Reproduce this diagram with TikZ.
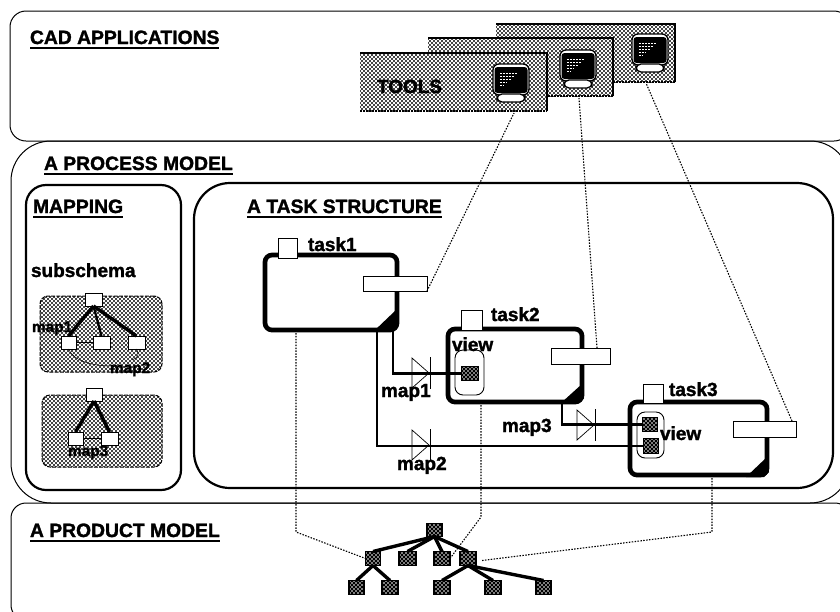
\documentclass[tikz,border=0pt]{standalone}
\usepackage{fontspec}
\setmainfont{Liberation Sans}[BoldFeatures={FakeBold=1.6}]
\usetikzlibrary{patterns,calc}
\pgfdeclarepatternformonly{finedots}{\pgfqpoint{-1pt}{-1pt}}{\pgfqpoint{5pt}{5pt}}{\pgfqpoint{4pt}{4pt}}{
  \pgfpathcircle{\pgfqpoint{0pt}{0pt}}{1.15pt}
  \pgfpathcircle{\pgfqpoint{2pt}{2pt}}{1.15pt}
  \pgfusepath{fill}}
\pgfdeclarepatternformonly{holes}{\pgfqpoint{-1pt}{-1pt}}{\pgfqpoint{5pt}{5pt}}{\pgfqpoint{4pt}{4pt}}{
  \pgfpathcircle{\pgfqpoint{0pt}{0pt}}{0.85pt}
  \pgfpathcircle{\pgfqpoint{2pt}{2pt}}{0.85pt}
  \pgfusepath{fill}}
\tikzset{
  panel/.style={draw=black,rectangle,rounded corners=#1,line width=1pt,inner sep=0pt,outer sep=0pt},
  inner panel/.style={draw=black,rectangle,rounded corners=#1,line width=2.2pt,inner sep=0pt,outer sep=0pt},
  title/.style={anchor=base west,inner sep=0pt,outer sep=0pt,font=\bfseries\fontsize{19.3}{20}\selectfont},
  lab/.style={anchor=base west,inner sep=0pt,outer sep=0pt,font=\bfseries\fontsize{19}{20}\selectfont},
  smalllab/.style={anchor=base west,inner sep=0pt,outer sep=0pt,font=\bfseries\fontsize{15.4}{16}\selectfont},
  ul/.style={line width=1.9pt},
  card/.style={rectangle,inner sep=0pt,outer sep=0pt,preaction={fill=white},pattern=finedots,pattern color=black},
  blob/.style={rectangle,rounded corners=8pt,inner sep=0pt,outer sep=0pt,draw=black,line width=1pt,dash pattern=on 4pt off 1.2pt,preaction={fill=white},pattern=finedots,pattern color=black},
  whitesq/.style={rectangle,draw=black,fill=white,line width=0.8pt,inner sep=0pt,outer sep=0pt},
  darksq/.style={rectangle,draw=black,line width=1.2pt,inner sep=0pt,outer sep=0pt,preaction={fill=black},pattern=holes,pattern color=white},
  taskbox/.style={rectangle,draw=black,fill=white,line width=4.7pt,rounded corners=7pt,inner sep=0pt,outer sep=0pt},
  toolbox/.style={rectangle,draw=black,fill=white,line width=0.9pt,inner sep=0pt,outer sep=0pt},
  capsule/.style={rectangle,draw=black,fill=white,line width=0.9pt,rounded corners=8pt,inner sep=0pt,outer sep=0pt},
  treeedge/.style={line width=3.4pt},
  flow/.style={line width=2.2pt},
  thin map/.style={line width=0.5pt},
  linkdot/.style={line width=1.1pt,dash pattern=on 1.5pt off 1.4pt},
  monitor/.pic={
    \draw[fill=white,line width=1.3pt,rounded corners=6pt] (0,0) rectangle (36,31);
    \fill[black,rounded corners=3pt] (1.5,3) rectangle (34.5,29);
    \draw[fill=white,line width=1.3pt,rounded corners=5pt] (4,30) rectangle (32,38);
    \draw[white,line width=0.9pt,dash pattern=on 1.5pt off 1.5pt] (7,9)--(24,9) (7,12)--(22,12) (7,15)--(18,15) (7,18)--(14,18) (7,21)--(11,21);
  }
}
\begin{document}
\begin{tikzpicture}[x=1pt,y=-1pt]
\useasboundingbox (0,0) rectangle (840,611);
\fill[white] (0,0) rectangle (840,611);
\clip (0,0) rectangle (840,611);

% outer panels
\node[panel=16pt,minimum width=840pt,minimum height=130pt] (cad) at (430,76) {};
\node[panel=40pt,minimum width=839pt,minimum height=362pt] (proc) at (430.5,322) {};
\node[panel=15pt,minimum width=839pt,minimum height=117pt] (prod) at (430.5,561.5) {};
% inner panels
\node[inner panel=20pt,minimum width=155pt,minimum height=305pt] (mapp) at (103.5,337.5) {};
\node[inner panel=36pt,minimum width=639pt,minimum height=305pt] (struct) at (513.5,335.5) {};

% titles
\node[title] (tcad) at (30,44) {CAD APPLICATIONS};
\node[title] (tproc) at (44,170) {A PROCESS MODEL};
\node[title] (tmap) at (33,213) {MAPPING};
\node[title] (ttask) at (247,213) {A TASK STRUCTURE};
\node[title] (tprod) at (30,537) {A PRODUCT MODEL};
\foreach \n in {tcad,tproc,tmap,ttask,tprod}{
  \draw[ul] ($(\n.base west)+(0,4)$) -- ($(\n.base east)+(0,4)$);
}

% tool cards
\node[card,minimum width=179pt,minimum height=58pt] (c3) at (585.5,53) {};
\draw[line width=2.4pt] (c3.north west) -- (c3.north east) -- (c3.south east);
\draw[line width=1.6pt,dash pattern=on 2pt off 1pt] (c3.south west) -- (c3.south east);
\pic at (632,34) {monitor};
\node[card,minimum width=185pt,minimum height=58pt] (c2) at (520.5,67) {};
\draw[line width=2.4pt] (c2.north west) -- (c2.north east) -- (c2.south east);
\draw[line width=1.6pt,dash pattern=on 2pt off 1pt] (c2.south west) -- (c2.south east);
\pic at (560,50) {monitor};
\node[card,minimum width=187pt,minimum height=58pt] (c1) at (453.5,82) {};
\draw[line width=2.4pt] (c1.north west) -- (c1.north east) -- (c1.south east);
\draw[line width=1.6pt,dash pattern=on 2pt off 1pt] (c1.south west) -- (c1.south east);
\pic at (493,64) {monitor};
\node[lab] (tools) at (377,93) {TOOLS};

% mapping
\node[lab] (sub) at (31,277) {subschema};
\node[blob,minimum width=122pt,minimum height=76pt] (b1) at (101,334) {};
\node[blob,minimum width=120pt,minimum height=72pt] (b2) at (102,431) {};
\node[whitesq,minimum width=17pt,minimum height=13pt] (r1) at (93.5,299.5) {};
\node[whitesq,minimum width=15pt,minimum height=13pt] (s1) at (68.5,342.5) {};
\node[whitesq,minimum width=17pt,minimum height=13pt] (s2) at (101.5,342.5) {};
\node[whitesq,minimum width=17pt,minimum height=13pt] (s3) at (136.5,342.5) {};
\node[whitesq,minimum width=16pt,minimum height=13pt] (r2) at (94,394.5) {};
\node[whitesq,minimum width=15pt,minimum height=13pt] (s4) at (75.5,438.5) {};
\node[whitesq,minimum width=17pt,minimum height=13pt] (s5) at (109.5,438.5) {};
\draw[treeedge] (r1.south) -- (s1.north);
\draw[line width=2.2pt] (r1.south) -- (s2.north);
\draw[treeedge] (r1.south) -- (s3.north);
\draw[treeedge] (r2.south) -- (s4.north);
\draw[treeedge] (r2.south) -- (s5.north);
\draw[thin map] (s1.east) -- (s2.west);
\draw[thin map] (s4.east) -- (s5.west);
\draw[thin map] (s1.south) .. controls (74,362) and (95,366) .. (112,366);
\draw[thin map] (s3.south) .. controls (140,354) and (138,358) .. (132,360);
\node[smalllab] (m1) at (32,332) {map1};
\node[smalllab] (m2) at (110,373) {map2};
\node[smalllab] (m3) at (68,456) {map3};

% dotted links behind tasks
\coordinate (lk1a) at (514,113);
\coordinate (lk2a) at (579,98);
\coordinate (lk3a) at (646,83);

% task 1
\node[taskbox,minimum width=132pt,minimum height=75pt] (t1) at (331,292.5) {};
\fill[black] (374,331) -- (396,310) -- (398,326) -- (394,331) -- cycle;
\node[whitesq,minimum width=19pt,minimum height=20pt] (q1) at (287.5,248) {};
\node[lab] (l1) at (308,251) {task1};
\node[toolbox,minimum width=64pt,minimum height=15pt] (k1) at (395,283.5) {};

% task 2
\node[taskbox,minimum width=134pt,minimum height=73pt] (t2) at (515,365.5) {};
\fill[black] (561,403) -- (582,384) -- (584,398) -- (579,403) -- cycle;
\node[whitesq,minimum width=21pt,minimum height=20pt] (q2) at (471.5,320) {};
\node[lab] (l2) at (491,321) {task2};
\node[toolbox,minimum width=59pt,minimum height=16pt] (k2) at (580.5,356) {};
\node[capsule,minimum width=29pt,minimum height=45pt] (v2) at (469.5,372.5) {};
\node[darksq,minimum width=17pt,minimum height=14pt] (d2) at (470,373.5) {};
\node[lab] (vl2) at (452,351) {view};

% task 3
\node[taskbox,minimum width=137pt,minimum height=73pt] (t3) at (698.5,438.5) {};
\fill[black] (746,477) -- (767,457) -- (769,472) -- (764,477) -- cycle;
\node[whitesq,minimum width=20pt,minimum height=19pt] (q3) at (653,393.5) {};
\node[lab] (l3) at (669,396) {task3};
\node[toolbox,minimum width=63pt,minimum height=16pt] (k3) at (764.5,429) {};
\node[capsule,minimum width=27pt,minimum height=46pt] (v3) at (650.5,435) {};
\node[darksq,minimum width=15pt,minimum height=14pt] (d3a) at (650,424.5) {};
\node[darksq,minimum width=15pt,minimum height=15pt] (d3b) at (651,446) {};
\node[lab] (vl3) at (660,440) {view};

% flow lines
\coordinate (f1a) at (393,331);
\coordinate (f2a) at (377,331);
\coordinate (f3a) at (562,403);
\draw[flow] (f1a) |- (d2.west);
\draw[flow] (f2a) |- (d3b.west);
\draw[flow] (f3a) |- (d3a.west);

% diodes
\coordinate (dd1) at (429,373);
\coordinate (dd2) at (429,445);
\coordinate (dd3) at (594,425);
\foreach \d in {dd1,dd2,dd3}{
  \draw[line width=0.7pt] ($(\d)+(-17,-15)$) -- (\d) -- ($(\d)+(-17,15)$) -- cycle;
  \draw[line width=0.7pt] ($(\d)+(1,-16)$) -- ($(\d)+(1,16)$);
}
\node[lab] (lm1) at (381,397) {map1};
\node[lab] (lm2) at (397,470) {map2};
\node[lab] (lm3) at (502,432) {map3};

% product tree
\node[darksq,minimum width=15pt,minimum height=13pt] (root) at (434.5,530) {};
\node[darksq,minimum width=15pt,minimum height=14pt] (a) at (373,558.5) {};
\node[darksq,minimum width=17pt,minimum height=14pt] (b) at (407.5,558.5) {};
\node[darksq,minimum width=16pt,minimum height=14pt] (cc) at (442,558.5) {};
\node[darksq,minimum width=16pt,minimum height=14pt] (dn) at (468,558.5) {};
\node[darksq,minimum width=15pt,minimum height=14pt] (a1) at (356.5,587.5) {};
\node[darksq,minimum width=16pt,minimum height=14pt] (a2) at (390,587.5) {};
\node[darksq,minimum width=16pt,minimum height=14pt] (d1) at (442,587.5) {};
\node[darksq,minimum width=16pt,minimum height=14pt] (d2n) at (493,587.5) {};
\node[darksq,minimum width=15pt,minimum height=14pt] (d3n) at (543.5,587.5) {};
\draw[treeedge] (root.south) -- (a.north);
\draw[treeedge] (root.south) -- (b.north);
\draw[treeedge] (root.south) -- (cc.north);
\draw[treeedge] (root.south) -- (dn.north);
\draw[treeedge] (a.south) -- (a1.north);
\draw[treeedge] (a.south) -- (a2.north);
\draw[treeedge] (dn.south) -- (d1.north);
\draw[treeedge] (dn.south) -- (d2n.north);
\draw[treeedge] (dn.south) -- (d3n.north);

% dotted links
\coordinate (bl1) at (296,333);
\coordinate (b1k) at (296,532);
\coordinate (b2a) at (481,405);
\coordinate (b2k) at (481,517);
\coordinate (b3a) at (712,478);
\coordinate (b3k) at (712,532);
\draw[linkdot] (k1.south east) -- (lk1a);
\draw[linkdot] (597,348) -- (lk2a);
\draw[linkdot] (k3.north east) ++(-4,0) -- (lk3a);
\draw[linkdot] (bl1) -- (b1k) -- (a.west);
\draw[linkdot] (b2a) -- (b2k) -- (cc.east);
\draw[linkdot] (b3a) -- (b3k) -- ($(dn.east)+(6,2)$);
\end{tikzpicture}
\end{document}
